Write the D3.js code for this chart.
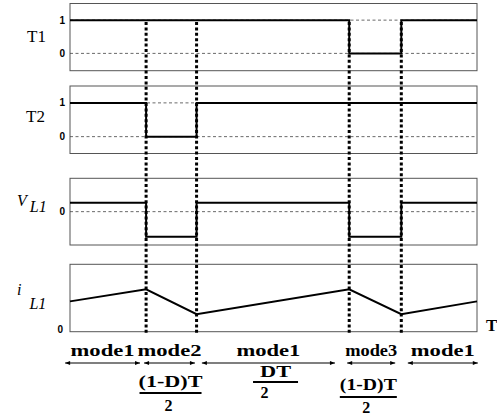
<!DOCTYPE html>
<html>
<head>
<meta charset="utf-8">
<script src="https://cdn.jsdelivr.net/npm/d3@7"></script>
<style>
  body { margin: 0; background: #fff; }
  svg { display: block; }
</style>
</head>
<body>
<script>
// switching instants inside one period (fraction of period)
const times = [0, 0.187, 0.311, 0.686, 0.814, 1];

// level of each signal in every interval between the instants
const t1Levels = [1, 1, 1, 0, 1];
const t2Levels = [1, 0, 1, 1, 1];
const vl1Levels = [0.27, -0.75, 0.27, -0.75, 0.27];

// inductor current at the instants
const il1Values = [0.45, 0.63, 0.26, 0.63, 0.26, 0.45];

// operating modes under the time axis
const modeNames = ["mode1", "mode2", "mode1", "mode3", "mode1"];
const modeStart = [-0.012, 0.182, 0.324, 0.681, 0.830];
const modeEnd = [0.172, 0.307, 0.651, 0.799, 1.002];

// durations written as fractions
const fracNum = ["(1-D)T", "DT", "(1-D)T"];
const fracDen = ["2", "2", "2"];
const fracCenter = [0.247, 0.505, 0.733];

const W = 497, H = 417;
const svg = d3.select("body").append("svg").attr("width", W).attr("height", H);
svg.append("rect").attr("width", W).attr("height", H).attr("fill", "#fff");

const x = d3.scaleLinear().domain([0, 1]).range([70, 477]);

const serif = "Liberation Serif";
const sans = "Liberation Sans";

// panel layout
const panels = [
    { top: 3.5, bottom: 70.7, domain: [-0.52, 1.5], ticks: [0, 1], dashed: [0, 1], levels: t1Levels },
    { top: 86, bottom: 153.5, domain: [-0.5, 1.5], ticks: [0, 1], dashed: [0, 1], levels: t2Levels },
    { top: 178.3, bottom: 245, domain: [-1, 1], ticks: [0], dashed: [0], levels: vl1Levels },
    { top: 264.3, bottom: 331.7, domain: [0, 1], ticks: [0], dashed: [], values: il1Values }
];

panels.forEach(p => {
    const y = d3.scaleLinear().domain(p.domain).range([p.bottom, p.top]);
    const g = svg.append("g");

    g.append("rect")
        .attr("x", x(0)).attr("y", p.top)
        .attr("width", x(1) - x(0)).attr("height", p.bottom - p.top)
        .attr("fill", "none").attr("stroke", "#555").attr("stroke-width", 1);

    g.selectAll("line.grid").data(p.dashed).enter().append("line")
        .attr("x1", x(0)).attr("x2", x(1))
        .attr("y1", d => y(d)).attr("y2", d => y(d))
        .attr("stroke", "#444").attr("stroke-width", 0.8)
        .attr("stroke-dasharray", "3,2.5");

    g.selectAll("text.tick").data(p.ticks).enter().append("text")
        .attr("x", p.values ? 63 : 65).attr("y", d => y(d) + (p.values ? -2 : 0))
        .attr("dy", "0.36em")
        .attr("text-anchor", "end")
        .attr("font-family", sans).attr("font-weight", "bold").attr("font-size", 10)
        .text(d => d);

    let pts;
    if (p.levels) {
        pts = p.levels.map((v, i) => [times[i], v]);
        pts.push([1, p.levels[p.levels.length - 1]]);
    } else {
        pts = p.values.map((v, i) => [times[i], v]);
    }
    const line = d3.line()
        .x(d => x(d[0])).y(d => y(d[1]))
        .curve(p.levels ? d3.curveStepAfter : d3.curveLinear);
    g.append("path").attr("d", line(pts))
        .attr("fill", "none").attr("stroke", "#000").attr("stroke-width", 2);
});

// signal names
svg.append("text").attr("x", 27).attr("y", 42)
    .attr("font-family", serif).attr("font-size", 17).text("T1");
svg.append("text").attr("x", 26).attr("y", 122)
    .attr("font-family", serif).attr("font-size", 17).text("T2");

const vl = svg.append("text").attr("x", 17).attr("y", 206)
    .attr("font-family", serif).attr("font-style", "italic").attr("font-size", 16);
vl.append("tspan").text("V");
vl.append("tspan").attr("dx", 3).attr("dy", 6).text("L1");

const il = svg.append("text").attr("x", 17).attr("y", 295)
    .attr("font-family", serif).attr("font-style", "italic").attr("font-size", 16);
il.append("tspan").text("i");
il.append("tspan").attr("dx", 8).attr("dy", 14).text("L1");

svg.append("text").attr("x", 486).attr("y", 331)
    .attr("font-family", serif).attr("font-weight", "bold").attr("font-size", 17).text("T");

// dotted switching markers
svg.selectAll("line.mark").data(times.slice(1, 5)).enter().append("line")
    .attr("x1", d => x(d)).attr("x2", d => x(d))
    .attr("y1", 22).attr("y2", 334)
    .attr("stroke", "#000").attr("stroke-width", 3)
    .attr("stroke-dasharray", "3,2.4");

// arrow heads
const defs = svg.append("defs");
defs.append("marker").attr("id", "ah")
    .attr("viewBox", "0 0 10 10").attr("refX", 10).attr("refY", 5)
    .attr("markerWidth", 6).attr("markerHeight", 5).attr("orient", "auto-start-reverse")
    .attr("markerUnits", "userSpaceOnUse")
    .append("path").attr("d", "M0,1 L10,5 L0,9 Z").attr("fill", "#000");

// modes
const modes = modeNames.map((n, i) => ({ name: n, a: modeStart[i], b: modeEnd[i] }));
svg.selectAll("line.mode").data(modes).enter().append("line")
    .attr("x1", d => x(d.a)).attr("x2", d => x(d.b))
    .attr("y1", 363).attr("y2", 363)
    .attr("stroke", "#000").attr("stroke-width", 1.2)
    .attr("marker-start", "url(#ah)").attr("marker-end", "url(#ah)");

svg.selectAll("text.mode").data(modes).enter().append("text")
    .attr("x", d => (x(d.a) + x(d.b)) / 2).attr("y", 356)
    .attr("text-anchor", "middle")
    .attr("font-family", serif).attr("font-weight", "bold").attr("font-size", 17)
    .attr("textLength", d => d.name === "mode3" ? 52 : 64)
    .attr("lengthAdjust", "spacingAndGlyphs")
    .text(d => d.name);

// fractions
const fracLayout = [
    { num: 387, bar: 393, den: 411, w: 64, bw: 62 },
    { num: 377, bar: 382, den: 398, w: 31, bw: 45 },
    { num: 390, bar: 397, den: 413, w: 57, bw: 57 }
];
fracNum.forEach((t, i) => {
    const cx = x(fracCenter[i]);
    const L = fracLayout[i];
    svg.append("text").attr("x", cx).attr("y", L.num)
        .attr("text-anchor", "middle")
        .attr("font-family", serif).attr("font-weight", "bold").attr("font-size", 17)
        .attr("textLength", L.w).attr("lengthAdjust", "spacingAndGlyphs")
        .text(t);
    svg.append("line")
        .attr("x1", cx - L.bw / 2).attr("x2", cx + L.bw / 2)
        .attr("y1", L.bar).attr("y2", L.bar)
        .attr("stroke", "#000").attr("stroke-width", 2);
    svg.append("text").attr("x", i === 1 ? cx - 11 : cx - 2).attr("y", L.den)
        .attr("text-anchor", "middle")
        .attr("font-family", serif).attr("font-weight", "bold").attr("font-size", 16)
        .text(fracDen[i]);
});
</script>
</body>
</html>
